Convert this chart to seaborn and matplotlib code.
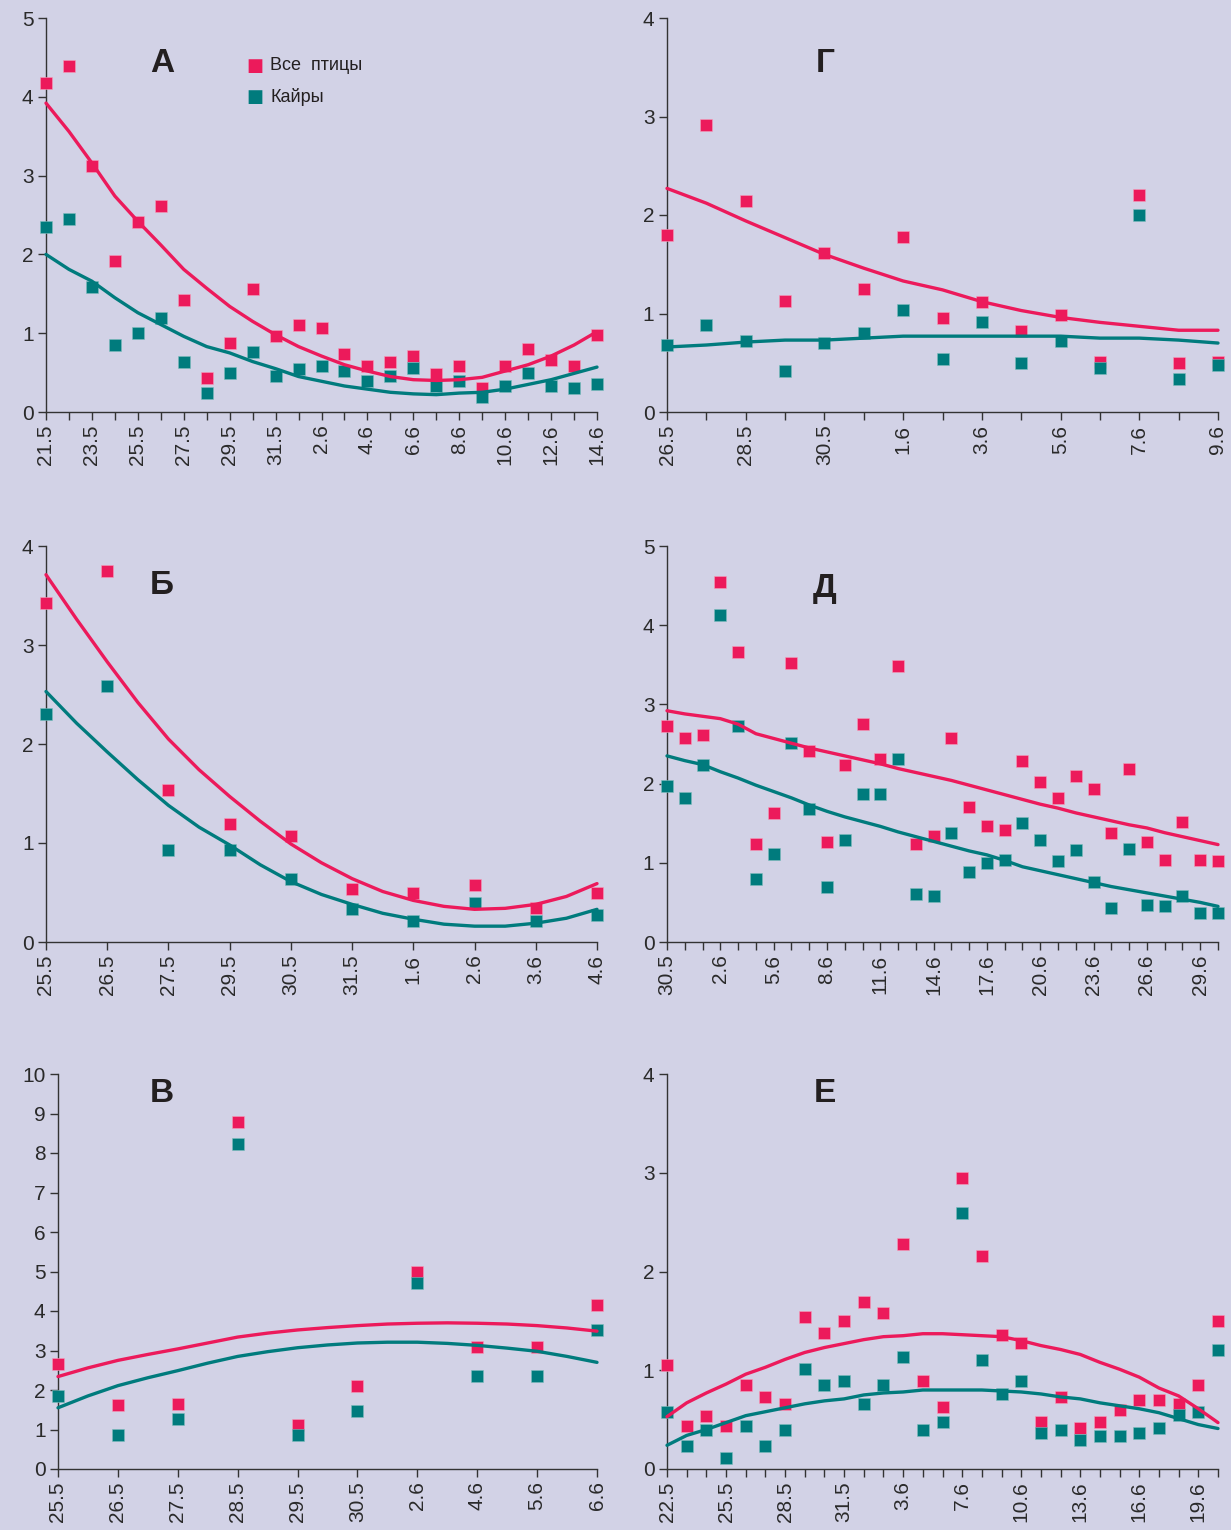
import numpy as np
import pandas as pd
import matplotlib
matplotlib.use("Agg")
import matplotlib.pyplot as plt
import seaborn as sns

sns.set_style("ticks")
plt.rcParams['font.family'] = ['Liberation Sans', 'DejaVu Sans']

BG = '#d2d2e6'
PINK = '#ec1a5b'
TEAL = '#007b7d'
TXT = '#2a2a2a'

# ---------------- Panel А ----------------
a_dates = ['21.5', '22.5', '23.5', '24.5', '25.5', '26.5', '27.5', '28.5', '29.5', '30.5', '31.5',
           '1.6', '2.6', '3.6', '4.6', '5.6', '6.6', '7.6', '8.6', '9.6', '10.6', '11.6', '12.6', '13.6', '14.6']
a_all = [4.17, 4.39, 3.12, 1.91, 2.41, 2.62, 1.42, 0.43, 0.88, 1.56, 0.97, 1.10, 1.07, 0.73, 0.58,
         0.63, 0.71, 0.48, 0.58, 0.31, 0.58, 0.80, 0.66, 0.58, 0.98]
a_murre = [2.35, 2.45, 1.59, 0.85, 1.00, 1.19, 0.63, 0.24, 0.49, 0.76, 0.46, 0.54, 0.58, 0.52, 0.39,
           0.46, 0.56, 0.33, 0.39, 0.19, 0.33, 0.49, 0.33, 0.31, 0.36]
a_all_trend = [3.92, 3.56, 3.16, 2.74, 2.42, 2.12, 1.81, 1.57, 1.34, 1.15, 0.98, 0.83, 0.71, 0.60,
               0.52, 0.45, 0.41, 0.40, 0.41, 0.44, 0.52, 0.60, 0.71, 0.85, 1.02]
a_murre_trend = [2.00, 1.81, 1.66, 1.45, 1.26, 1.11, 0.96, 0.83, 0.75, 0.64, 0.55, 0.45, 0.39, 0.33,
                 0.29, 0.25, 0.23, 0.22, 0.24, 0.25, 0.29, 0.35, 0.41, 0.49, 0.57]

# ---------------- Panel Г ----------------
g_dates = ['26.5', '27.5', '28.5', '29.5', '30.5', '31.5', '1.6', '2.6', '3.6', '4.6', '5.6', '6.6',
           '7.6', '8.6', '9.6']
g_all = [1.80, 2.91, 2.14, 1.13, 1.61, 1.25, 1.78, 0.95, 1.12, 0.82, 0.98, 0.51, 2.20, 0.50, 0.51]
g_murre = [0.68, 0.88, 0.72, 0.42, 0.70, 0.80, 1.04, 0.54, 0.91, 0.50, 0.72, 0.45, 2.00, 0.33, 0.48]
g_all_trend = [2.27, 2.12, 1.94, 1.77, 1.60, 1.46, 1.33, 1.24, 1.12, 1.03, 0.96, 0.91, 0.87, 0.83, 0.83]
g_murre_trend = [0.66, 0.68, 0.71, 0.73, 0.73, 0.75, 0.77, 0.77, 0.77, 0.77, 0.77, 0.75, 0.75, 0.73, 0.70]

# ---------------- Panel Б ----------------
b_dates = ['25.5', '26.5', '27.5', '29.5', '30.5', '31.5', '1.6', '2.6', '3.6', '4.6']
b_all = [3.42, 3.75, 1.54, 1.19, 1.07, 0.54, 0.50, 0.58, 0.34, 0.50]
b_murre = [2.30, 2.59, 0.93, 0.93, 0.64, 0.33, 0.21, 0.39, 0.21, 0.27]
# trend read at every half category step
b_all_trend = [3.71, 3.26, 2.83, 2.42, 2.05, 1.74, 1.47, 1.22, 0.99, 0.80, 0.64, 0.51, 0.42, 0.36,
               0.33, 0.34, 0.38, 0.46, 0.59]
b_murre_trend = [2.53, 2.21, 1.92, 1.64, 1.38, 1.16, 0.98, 0.78, 0.61, 0.48, 0.38, 0.29, 0.23, 0.18,
                 0.16, 0.16, 0.19, 0.24, 0.33]

# ---------------- Panel Д ----------------
d_dates = ['30.5', '31.5'] + ['%d.6' % d for d in range(1, 31)]
d_all = [2.73, 2.58, 2.61, 4.54, 3.66, 1.24, 1.63, 3.52, 2.41, 1.26, 2.24, 2.75, 2.31, 3.49, 1.24, 1.34,
         2.58, 1.70, 1.46, 1.42, 2.29, 2.02, 1.82, 2.09, 1.93, 1.38, 2.19, 1.26, 1.04, 1.51, 1.04, 1.02]
d_murre = [1.97, 1.82, 2.24, 4.13, 2.73, 0.80, 1.11, 2.51, 1.68, 0.69, 1.29, 1.87, 1.87, 2.31, 0.60, 0.58,
           1.38, 0.89, 1.00, 1.04, 1.50, 1.29, 1.02, 1.16, 0.76, 0.43, 1.18, 0.47, 0.45, 0.58, 0.36, 0.36]
d_all_trend = [2.92, 2.88, 2.85, 2.82, 2.75, 2.63, 2.57, 2.51, 2.45, 2.40, 2.35, 2.30, 2.25, 2.19, 2.14,
               2.09, 2.04, 1.98, 1.92, 1.86, 1.80, 1.74, 1.69, 1.63, 1.58, 1.53, 1.48, 1.44, 1.38, 1.33,
               1.28, 1.23]
d_murre_trend = [2.35, 2.29, 2.24, 2.15, 2.07, 1.98, 1.90, 1.82, 1.73, 1.65, 1.58, 1.52, 1.46, 1.39, 1.33,
                 1.27, 1.21, 1.15, 1.10, 1.03, 0.95, 0.90, 0.85, 0.80, 0.75, 0.70, 0.66, 0.62, 0.58, 0.54,
                 0.50, 0.45]

# ---------------- Panel В ----------------
v_dates = ['25.5', '26.5', '27.5', '28.5', '29.5', '30.5', '2.6', '4.6', '5.6', '6.6']
v_all = [2.65, 1.61, 1.65, 8.79, 1.12, 2.10, 4.99, 3.09, 3.09, 4.16]
v_murre = [1.86, 0.86, 1.27, 8.24, 0.87, 1.46, 4.71, 2.35, 2.35, 3.52]
# trend read at every half category step
v_all_trend = [2.34, 2.56, 2.75, 2.90, 3.04, 3.19, 3.34, 3.44, 3.52, 3.58, 3.63, 3.67, 3.69, 3.70,
               3.69, 3.67, 3.63, 3.57, 3.49]
v_murre_trend = [1.55, 1.85, 2.11, 2.31, 2.49, 2.68, 2.85, 2.97, 3.07, 3.14, 3.19, 3.21, 3.21, 3.18,
                 3.13, 3.06, 2.98, 2.85, 2.70]

# ---------------- Panel Е ----------------
e_dates = ['22.5', '23.5', '24.5', '25.5', '26.5', '27.5', '28.5', '29.5', '30.5', '31.5',
           '1.6', '2.6', '3.6', '5.6', '6.6', '7.6', '8.6', '9.6', '10.6', '11.6', '12.6', '13.6',
           '14.6', '15.6', '16.6', '17.6', '18.6', '19.6', '20.6']
e_all = [1.05, 0.44, 0.54, 0.44, 0.85, 0.73, 0.66, 1.54, 1.38, 1.50, 1.69, 1.58, 2.28, 0.89, 0.63,
         2.95, 2.16, 1.36, 1.28, 0.48, 0.73, 0.42, 0.48, 0.60, 0.70, 0.70, 0.66, 0.85, 1.50]
e_murre = [0.58, 0.23, 0.39, 0.11, 0.44, 0.23, 0.39, 1.01, 0.85, 0.89, 0.66, 0.85, 1.13, 0.39, 0.48,
           2.59, 1.10, 0.76, 0.89, 0.36, 0.39, 0.29, 0.33, 0.33, 0.36, 0.42, 0.55, 0.58, 1.21]
e_all_trend = [0.53, 0.67, 0.77, 0.86, 0.96, 1.03, 1.11, 1.18, 1.23, 1.27, 1.31, 1.34, 1.35, 1.37, 1.37,
               1.36, 1.35, 1.34, 1.30, 1.25, 1.21, 1.16, 1.08, 1.01, 0.93, 0.82, 0.74, 0.61, 0.47]
e_murre_trend = [0.24, 0.34, 0.40, 0.47, 0.54, 0.58, 0.62, 0.66, 0.69, 0.71, 0.75, 0.77, 0.78, 0.80, 0.80,
                 0.80, 0.80, 0.79, 0.78, 0.76, 0.73, 0.71, 0.67, 0.64, 0.61, 0.57, 0.51, 0.45, 0.41]

panels = [
    ('А', a_dates, a_all, a_murre, a_all_trend, a_murre_trend, 5, 2, (46, 597, 18, 412), (162, 64)),
    ('Г', g_dates, g_all, g_murre, g_all_trend, g_murre_trend, 4, 2, (667, 1218, 18, 412), (825, 64)),
    ('Б', b_dates, b_all, b_murre, b_all_trend, b_murre_trend, 4, 1, (46, 597, 546, 942), (162, 586)),
    ('Д', d_dates, d_all, d_murre, d_all_trend, d_murre_trend, 5, 3, (667, 1218, 546, 942), (825, 588)),
    ('В', v_dates, v_all, v_murre, v_all_trend, v_murre_trend, 10, 1, (58, 597, 1074, 1469), (162, 1093)),
    ('Е', e_dates, e_all, e_murre, e_all_trend, e_murre_trend, 4, 3, (667, 1218, 1074, 1469), (825, 1093)),
]

W, H = 1231, 1530
fig = plt.figure(figsize=(W / 100, H / 100), dpi=100, facecolor=BG)

for letter, dates, allb, murre, allt, murt, ymax, step, rect, lpos in panels:
    l, r, t, b = rect
    ax = fig.add_axes([l / W, 1 - b / H, (r - l) / W, (b - t) / H])
    ax.set_facecolor(BG)
    n = len(dates)
    df = pd.DataFrame({'pos': np.arange(n), 'date': dates, 'all': allb, 'murre': murre})
    m = len(allt)
    tdf = pd.DataFrame({'pos': np.arange(m) * (n - 1) / (m - 1), 'all_t': allt, 'mur_t': murt})
    sns.scatterplot(data=df, x='pos', y='all', marker='s', s=64, color=PINK, linewidth=0.4,
                    edgecolor='#f4a0bb', ax=ax, clip_on=False, zorder=3)
    sns.scatterplot(data=df, x='pos', y='murre', marker='s', s=64, color=TEAL, linewidth=0.4,
                    edgecolor='#7fbcbd', ax=ax, clip_on=False, zorder=3)
    sns.lineplot(data=tdf, x='pos', y='all_t', color=PINK, linewidth=2.4, ax=ax, zorder=4,
                 clip_on=False)
    sns.lineplot(data=tdf, x='pos', y='mur_t', color=TEAL, linewidth=2.4, ax=ax, zorder=4,
                 clip_on=False)
    ax.set_xlim(0, n - 1)
    ax.set_ylim(0, ymax)
    ax.set_yticks(range(0, ymax + 1))
    ax.set_yticklabels([str(v) for v in range(0, ymax + 1)], fontsize=15, color=TXT)
    ax.set_xticks(np.arange(n))
    ax.set_xticklabels([d if i % step == 0 else '' for i, d in enumerate(dates)],
                       rotation=90, fontsize=15, color=TXT)
    ax.tick_params(axis='both', direction='out', length=6, width=1.0, color='#333333', pad=3)
    ax.set_xlabel('')
    ax.set_ylabel('')
    for s in ['top', 'right']:
        ax.spines[s].set_visible(False)
    for s in ['left', 'bottom']:
        ax.spines[s].set_color('#333333')
        ax.spines[s].set_linewidth(1.0)
    fig.text(lpos[0] / W, 1 - lpos[1] / H, letter, fontsize=24, fontweight='bold',
             color='#231f20', ha='center', va='center')

# legend in panel А
fig.text(255 / W, 1 - 66 / H, '■', fontsize=13, color=PINK, ha='center', va='center',
         family=['DejaVu Sans'])
fig.text(255 / W, 1 - 97 / H, '■', fontsize=13, color=TEAL, ha='center', va='center',
         family=['DejaVu Sans'])
fig.text(270 / W, 1 - 66 / H, 'Все  птицы', fontsize=13, color='#231f20', ha='left', va='center')
fig.text(270 / W, 1 - 97 / H, 'Кайры', fontsize=13, color='#231f20', ha='left', va='center')

fig.savefig('out.png', dpi=100, facecolor=BG)
